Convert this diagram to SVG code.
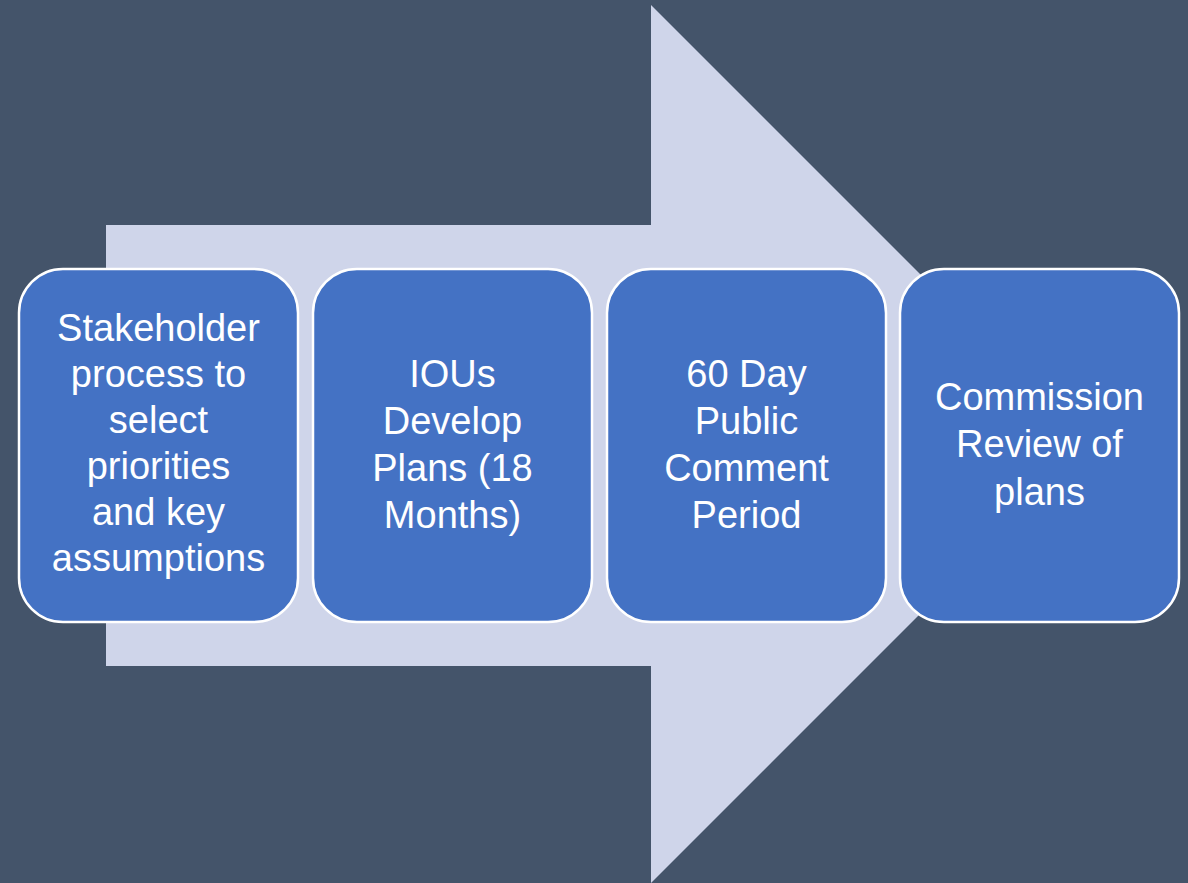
<svg xmlns="http://www.w3.org/2000/svg" width="1188" height="883" viewBox="0 0 1188 883">
<style>
.box{fill:#4472C4;stroke:#FFFFFF;stroke-width:2.5}
.lbl{font-family:"Liberation Sans","Open Sans",Arial,sans-serif;font-size:38px;fill:#FFFFFF;text-anchor:middle}
</style>
<rect x="0" y="0" width="1188" height="883" fill="#44546A"/>
<g id="arrow">
<polygon points="106,225 651,225 651,5 1090,444 651,883 651,666 106,666" fill="#CFD5EA"/>
</g>
<g id="connectors"></g>
<g id="node1">
<rect class="box" x="19" y="269" width="279" height="353" rx="44" ry="44"/>
<text class="lbl" x="158.5" y="341">Stakeholder</text>
<text class="lbl" x="158.5" y="387">process to</text>
<text class="lbl" x="158.5" y="433">select</text>
<text class="lbl" x="158.5" y="479">priorities</text>
<text class="lbl" x="158.5" y="525">and key</text>
<text class="lbl" x="158.5" y="571">assumptions</text>
</g>
<g id="node2">
<rect class="box" x="313" y="269" width="279" height="353" rx="44" ry="44"/>
<text class="lbl" x="452.5" y="387">IOUs</text>
<text class="lbl" x="452.5" y="434">Develop</text>
<text class="lbl" x="452.5" y="481">Plans (18</text>
<text class="lbl" x="452.5" y="528">Months)</text>
</g>
<g id="node3">
<rect class="box" x="607" y="269" width="279" height="353" rx="44" ry="44"/>
<text class="lbl" x="746.5" y="387">60 Day</text>
<text class="lbl" x="746.5" y="434">Public</text>
<text class="lbl" x="746.5" y="481">Comment</text>
<text class="lbl" x="746.5" y="528">Period</text>
</g>
<g id="node4">
<rect class="box" x="900" y="269" width="279" height="353" rx="44" ry="44"/>
<text class="lbl" x="1039.5" y="410">Commission</text>
<text class="lbl" x="1039.5" y="457">Review of</text>
<text class="lbl" x="1039.5" y="505">plans</text>
</g>
</svg>
